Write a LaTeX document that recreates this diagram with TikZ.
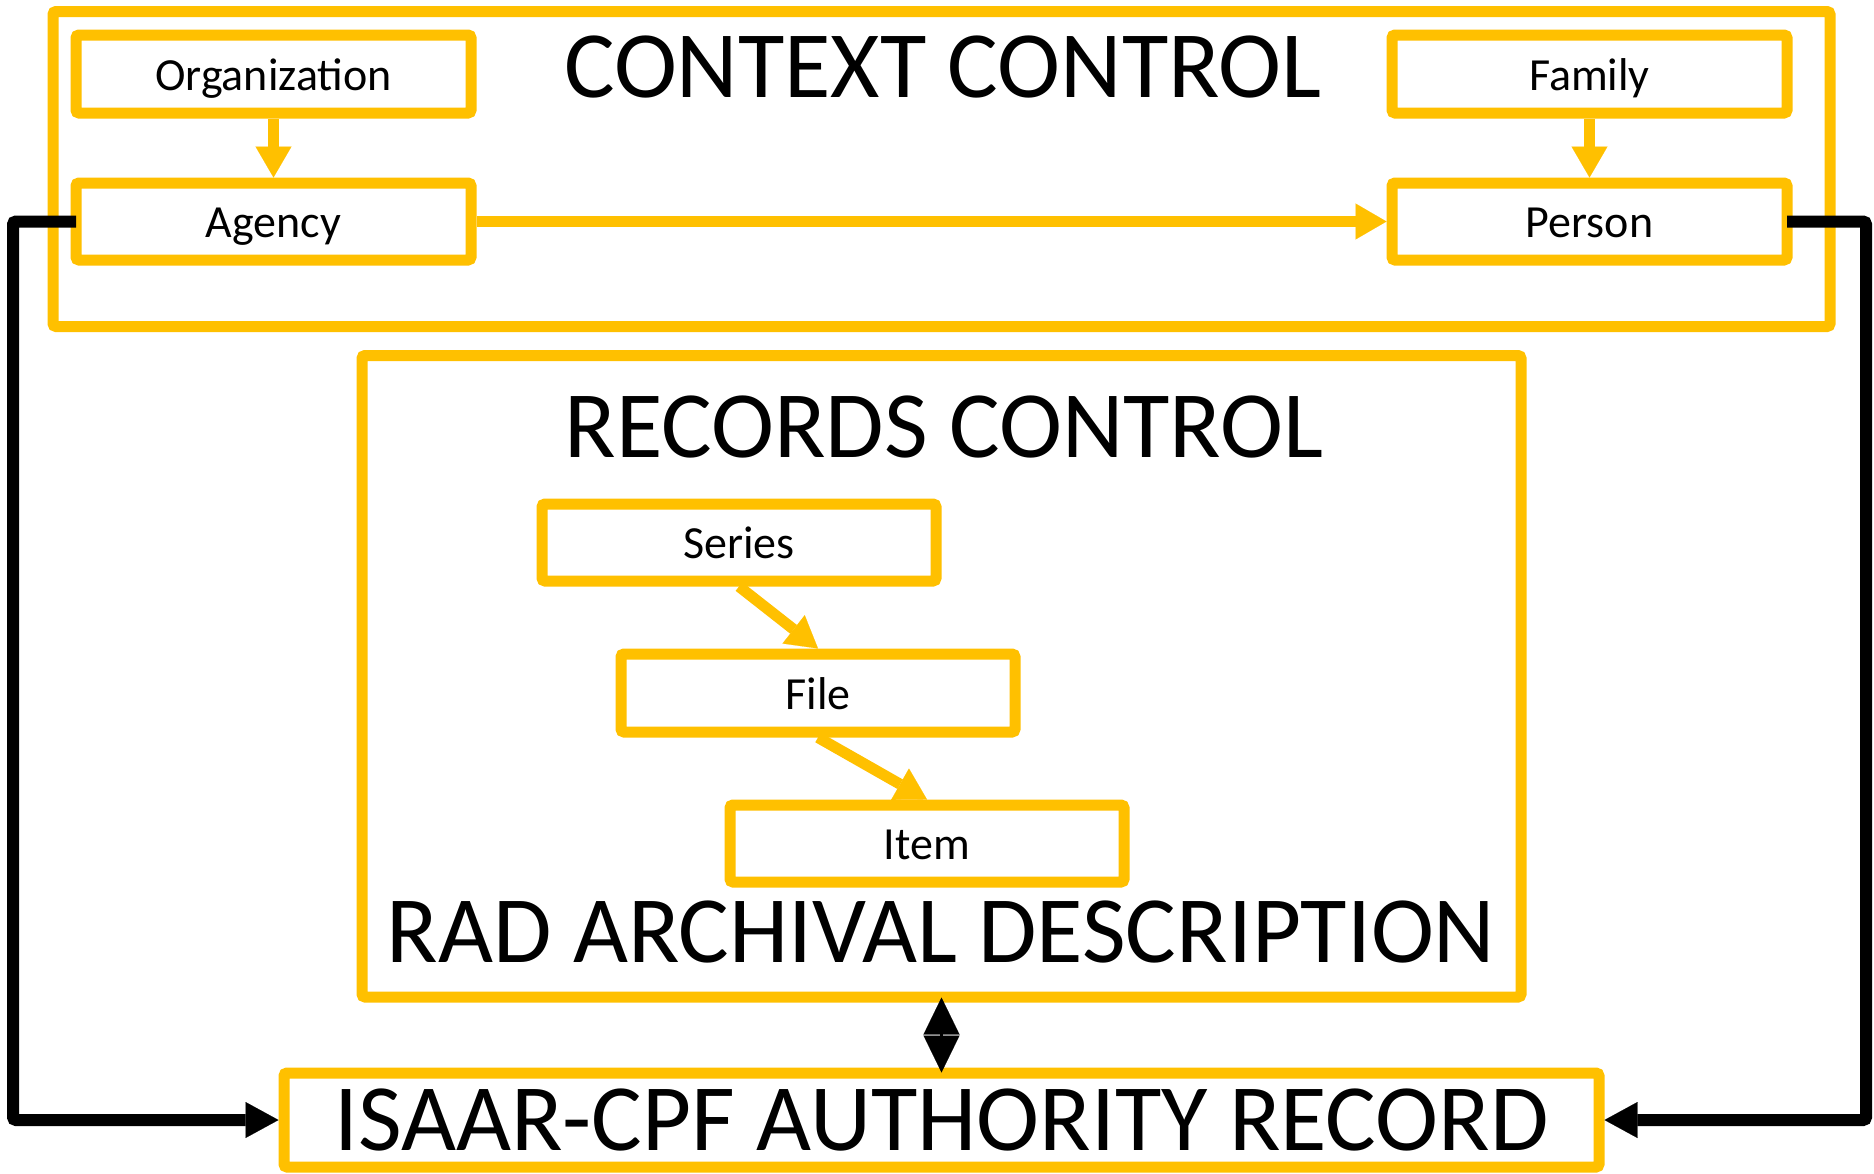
\documentclass[tikz,border=0pt]{standalone}
\usepackage{fontspec}
\setmainfont{Carlito}
\usetikzlibrary{arrows.meta}
\definecolor{gold}{HTML}{FFC000}
\begin{document}
\begin{tikzpicture}[x=1pt,y=-1pt,
  box/.style={draw=gold,line width=11pt,rounded corners=3pt,fill=white,inner sep=0pt},
  lbl/.style={font=\fontsize{46}{50}\selectfont,text height=34pt,text depth=2pt},
  big/.style={font=\fontsize{95}{100}\selectfont},
  yarrow/.style={draw=gold,line width=11pt,-{Triangle[length=31pt,width=36pt,line width=0.1pt]}},
  karrow/.style={draw=black,line width=12pt,rounded corners=3pt,-{Triangle[length=33pt,width=36pt,line width=0.1pt]}},
  darrow/.style={draw=black,line width=3pt,{Triangle[length=37pt,width=36pt,line width=0.1pt]}-{Triangle[length=37pt,width=36pt,line width=0.1pt]}}
]
\useasboundingbox (0,0) rectangle (1874,1173);
% context control
\node[box,minimum width=1777pt,minimum height=315pt] (ctx) at (941.5,169) {};
\node[big,anchor=base] (ctxtitle) at (943,97) {CONTEXT CONTROL};
\node[box,lbl,minimum width=395pt,minimum height=78pt] (org) at (273.5,74) {Organization};
\node[box,lbl,minimum width=395pt,minimum height=77pt] (agency) at (273.5,221.5) {Agency};
\node[box,lbl,minimum width=395pt,minimum height=78pt] (family) at (1589.5,74) {Family};
\node[box,lbl,minimum width=395pt,minimum height=77pt] (person) at (1589.5,221.5) {Person};
\draw[yarrow] (org.south) -- (agency.north);
\draw[yarrow] (family.south) -- (person.north);
\draw[yarrow] (agency.east) -- (person.west);
% records control
\node[box,minimum width=1159pt,minimum height=641.5pt] (rc) at (941.5,676.25) {};
\node[big,anchor=base] (rctitle) at (944,457) {RECORDS CONTROL};
\node[big,anchor=base] (radtitle) at (941,962) {RAD ARCHIVAL DESCRIPTION};
\node[box,lbl,minimum width=394pt,minimum height=77pt] (series) at (739,542.5) {Series};
\node[box,lbl,minimum width=394pt,minimum height=78pt] (file) at (818,693) {File};
\node[box,lbl,minimum width=394pt,minimum height=77pt] (item) at (927,843.5) {Item};
\draw[yarrow] (series.south) -- (file.north);
\draw[yarrow] (file.south) -- (item.north);
% ISAAR
\node[box,big,minimum width=1315pt,minimum height=94pt] (isaar) at (941.5,1120) {ISAAR-CPF AUTHORITY RECORD};
\draw[darrow] ([yshift=5pt]rc.south) -- ([yshift=-5pt]isaar.north);
% black connectors
\coordinate (lc) at (13,221.5);
\coordinate (rcn) at (1866,221.5);
\draw[karrow] ([xshift=5.5pt]agency.west) -- (lc) |- (isaar.west);
\draw[karrow] ([xshift=-5.5pt]person.east) -- (rcn) |- (isaar.east);
\end{tikzpicture}
\end{document}
